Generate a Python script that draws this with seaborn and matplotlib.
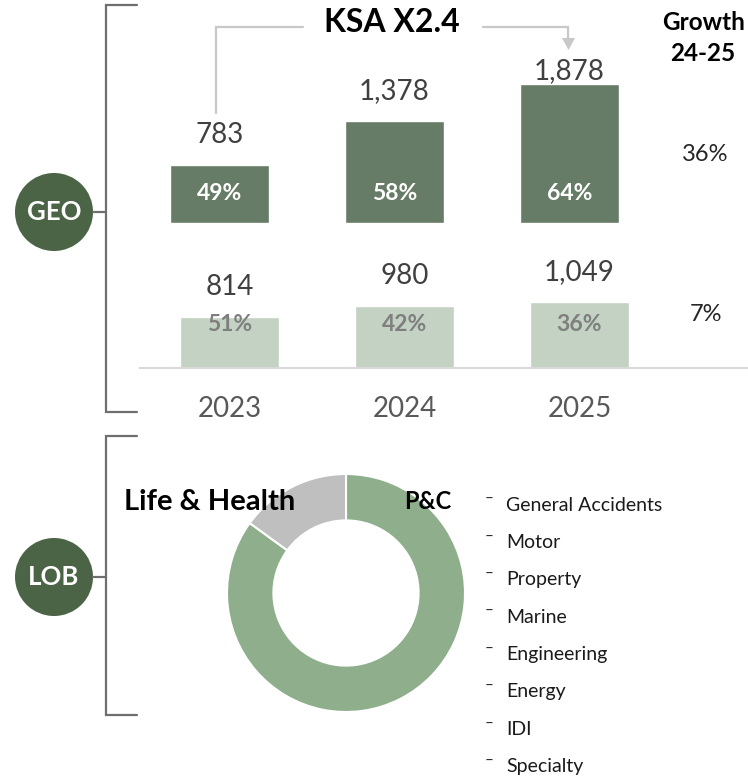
import matplotlib
matplotlib.use("Agg")
import matplotlib.pyplot as plt
import seaborn as sns
from matplotlib.patches import Circle, Polygon

# data
years = ["2023", "2024", "2025"]
ksa = [783, 1378, 1878]
other = [814, 980, 1049]
lob_names = ["P&C", "Life & Health"]
lob_share = [85, 15]
pc_lines = ["General Accidents", "Motor", "Property", "Marine",
            "Engineering", "Energy", "IDI", "Specialty"]

DARK = "#677c66"
LIGHT = "#c3d2c3"
GREEN = "#8fae8c"
GRAY = "#bfbfbf"
CIRCLE = "#4b6446"
BRACKET = "#6f6f6f"
ARROW = "#c8c8c8"
VAL = "#404040"

W, H = 748, 778

sns.set_theme(style="white")
plt.rcParams["font.family"] = ["Lato", "DejaVu Sans"]

fig = plt.figure(figsize=(W / 100, H / 100), dpi=100)


def px_axes(left, top, width, height):
    return fig.add_axes([left / W, 1 - (top + height) / H, width / W, height / H])


total = [a + b for a, b in zip(ksa, other)]

# KSA bars (top row)
ax_top = px_axes(132, 75, 525, 148)
sns.barplot(x=years, y=ksa, color=DARK, saturation=1, width=99 / 175, ax=ax_top)
ax_top.set_xlim(-0.5, 2.5)
ax_top.set_ylim(0, 2000)
ax_top.axis("off")
top_off = [21.5, 21.5, 9]
for i, v in enumerate(ksa):
    ax_top.annotate(f"{v:,}", (i, v), xytext=(0, top_off[i]), textcoords="offset points",
                    ha="center", va="center", fontsize=20, color=VAL)
    ax_top.text(i, 392, f"{round(100 * v / total[i])}%", ha="center", va="center",
                fontsize=16.5, fontweight="bold", color="white")

# other bars (bottom row)
ax_bot = px_axes(140, 368 - 75.6, 608, 75.6)
sns.barplot(x=years, y=other, color=LIGHT, saturation=1, width=99 / 175, ax=ax_bot)
ax_bot.set_xlim(-0.511, 2.963)
ax_bot.set_ylim(0, 1200)
for s in ["left", "right", "top"]:
    ax_bot.spines[s].set_visible(False)
ax_bot.spines["bottom"].set_color("#d9d9d9")
ax_bot.spines["bottom"].set_linewidth(1.5)
ax_bot.set_yticks([])
ax_bot.set_xlabel("")
ax_bot.set_ylabel("")
ax_bot.tick_params(axis="x", length=0, pad=20, labelsize=20, labelcolor="#595959")
for i, v in enumerate(other):
    ax_bot.annotate(f"{v:,}", (i, v), xytext=(0, 21.5), textcoords="offset points",
                    ha="center", va="center", fontsize=20, color=VAL)
    ax_bot.text(i, 698, f"{round(100 * v / total[i])}%", ha="center", va="center",
                fontsize=16.5, fontweight="bold", color="#7f7f7f")

# LOB donut
ax_pie = px_axes(227, 474, 238, 238)
ax_pie.pie(lob_share, colors=[GREEN, GRAY], startangle=90, counterclock=False,
           wedgeprops=dict(width=0.39, edgecolor="white", linewidth=1.5))
ax_pie.set_xlim(-1.0, 1.0)
ax_pie.set_ylim(-1.0, 1.0)
ax_pie.set_aspect("equal")

# overlay in pixel units for brackets and notes
ov = fig.add_axes([0, 0, 1, 1])
ov.set_xlim(0, W)
ov.set_ylim(H, 0)
ov.axis("off")

for top, bot, cy, name in [(5, 412, 212, "GEO"), (436, 715, 577, "LOB")]:
    ov.plot([137, 106, 106, 137], [top, top, bot, bot], color=BRACKET, lw=1.6,
            solid_joinstyle="miter")
    ov.plot([93, 106], [cy, cy], color=BRACKET, lw=1.6)
    ov.add_patch(Circle((54, cy), 39, fc=CIRCLE, ec="none"))
    ov.text(54, cy, name, ha="center", va="center", fontsize=18.5, fontweight="bold",
            color="white")

# KSA growth arrow
ov.plot([216, 216, 303], [113, 27, 27], color=ARROW, lw=1.6, solid_joinstyle="miter")
ov.plot([483, 568.5, 568.5], [27, 27, 39], color=ARROW, lw=1.6, solid_joinstyle="miter")
ov.add_patch(Polygon([(562, 38), (575, 38), (568.5, 50)], fc=ARROW, ec="none"))
ov.text(392, 22, f"KSA X{ksa[-1] / ksa[0]:.1f}", ha="center", va="center",
        fontsize=23, fontweight="bold", color="black")

# growth column
ov.text(704, 22, "Growth", ha="center", va="center", fontsize=17.5, fontweight="bold",
        color="black")
ov.text(703, 53, "24-25", ha="center", va="center", fontsize=17.5, fontweight="bold",
        color="black")
ov.text(705, 154, f"{round(100 * (ksa[-1] / ksa[-2] - 1))}%", ha="center", va="center",
        fontsize=17, color="#262626")
ov.text(706, 314, f"{round(100 * (other[-1] / other[-2] - 1))}%", ha="center",
        va="center", fontsize=17, color="#262626")

# donut labels
ov.text(210, 502, lob_names[1], ha="center", va="center", fontsize=21,
        fontweight="bold", color="black")
ov.text(428, 501, lob_names[0], ha="center", va="center", fontsize=17,
        fontweight="bold", color="black")

for k, name in enumerate(pc_lines):
    y = 505 + 37.4 * k
    ov.text(489, y - 6, "–", ha="center", va="center", fontsize=11, color="#262626")
    ov.text(506, y, name, ha="left", va="center", fontsize=14, color="#1a1a1a")

fig.savefig("out.png", dpi=100)
